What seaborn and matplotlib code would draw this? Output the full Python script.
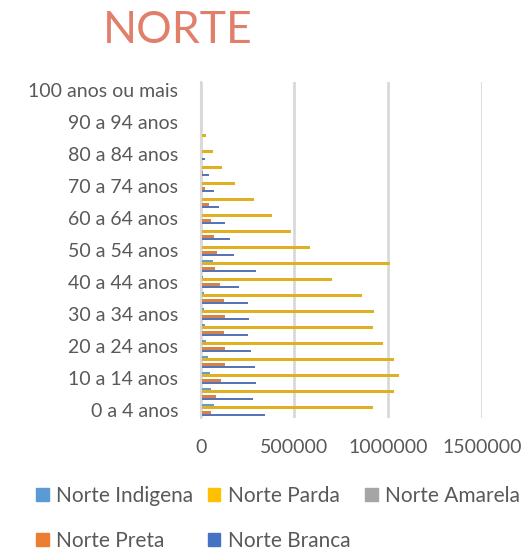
import numpy as np
import pandas as pd
import matplotlib
matplotlib.use("Agg")
import matplotlib.pyplot as plt
import matplotlib.patches as mpatches
import seaborn as sns

# ===================== DADOS =====================
faixas = ["0 a 4 anos", "5 a 9 anos", "10 a 14 anos", "15 a 19 anos", "20 a 24 anos",
          "25 a 29 anos", "30 a 34 anos", "35 a 39 anos", "40 a 44 anos", "45 a 49 anos",
          "50 a 54 anos", "55 a 59 anos", "60 a 64 anos", "65 a 69 anos", "70 a 74 anos",
          "75 a 79 anos", "80 a 84 anos", "85 a 89 anos", "90 a 94 anos", "95 a 99 anos",
          "100 anos ou mais"]

indigena = [71000, 57000, 52000, 39000, 30000, 25000, 18000, 18000, 12000, 64000,
            5000, 5000, 3000, 2000, 1000, 1000, 500, 0, 0, 0, 0]
parda = [918000, 1029000, 1055000, 1029000, 970000, 918000, 926000, 860000, 698000, 1009000,
         582000, 479000, 381000, 283000, 185000, 116000, 64000, 30000, 5000, 0, 0]
amarela = [6000, 6000, 7000, 7000, 6000, 6000, 5000, 5000, 4000, 6000,
           3000, 3000, 2000, 2000, 1000, 1000, 500, 0, 0, 0, 0]
preta = [57000, 84000, 110000, 128000, 128000, 123000, 128000, 123000, 103000, 77000,
         89000, 71000, 57000, 45000, 25000, 12000, 5000, 2000, 0, 0, 0]
branca = [343000, 278000, 297000, 292000, 270000, 253000, 258000, 253000, 206000, 297000,
          180000, 155000, 128000, 96000, 71000, 45000, 25000, 5000, 1000, 0, 0]

series = ["Norte Indigena", "Norte Parda", "Norte Amarela", "Norte Preta", "Norte Branca"]
cores = ["#5B9BD5", "#FFC000", "#A5A5A5", "#ED7D31", "#4472C4"]

df = pd.DataFrame({
    "faixa": faixas * 5,
    "serie": np.repeat(series, len(faixas)),
    "valor": indigena + parda + amarela + preta + branca,
})

# ===================== GRÁFICO =====================
sns.set_style("white")
plt.rcParams["font.family"] = ["Lato", "DejaVu Sans"]
cinza = "#595959"

fig = plt.figure(figsize=(5.24, 5.53), dpi=100)
ax = fig.add_axes([0.383, 0.244, 0.537, 0.608])

sns.barplot(data=df, y="faixa", x="valor", hue="serie", order=faixas[::-1],
            hue_order=series, palette=cores, orient="h", width=0.8,
            linewidth=0, ax=ax, legend=False)

ax.set_xlim(0, 1500000)
ax.set_xticks([0, 500000, 1000000, 1500000])
ax.set_xticklabels(["0", "500000", "1000000", "1500000"])
ax.grid(axis="x", color="#D9D9D9", linewidth=2)
ax.set_axisbelow(True)

rotulos = [f if i % 2 == 0 else "" for i, f in enumerate(faixas)][::-1]
ax.set_yticks(range(len(faixas)))
ax.set_yticklabels(rotulos)

ax.tick_params(axis="both", length=0, labelsize=14, colors=cinza)
ax.tick_params(axis="x", pad=15)
ax.tick_params(axis="y", pad=16)
ax.set_xlabel("")
ax.set_ylabel("")
for lado in ["top", "right", "bottom"]:
    ax.spines[lado].set_visible(False)
ax.spines["left"].set_color("#D9D9D9")
ax.spines["left"].set_linewidth(1.5)

fig.text(0.34, 0.945, "NORTE", ha="center", va="center", fontsize=32, color="#E17F6B")

# legenda em 3 colunas: Indigena/Preta, Parda/Branca, Amarela
ordem = [0, 3, 1, 4, 2]
handles = [mpatches.Patch(color=cores[i], label=series[i]) for i in ordem]
fig.legend(handles=handles, loc="center left", bbox_to_anchor=(0.068, 0.063), ncol=3,
           frameon=False, fontsize=15, labelcolor=cinza, handlelength=0.62,
           handleheight=0.62, handletextpad=0.35, columnspacing=0.7, labelspacing=1.2,
           borderaxespad=0, borderpad=0)

fig.savefig("out.png", dpi=100)
